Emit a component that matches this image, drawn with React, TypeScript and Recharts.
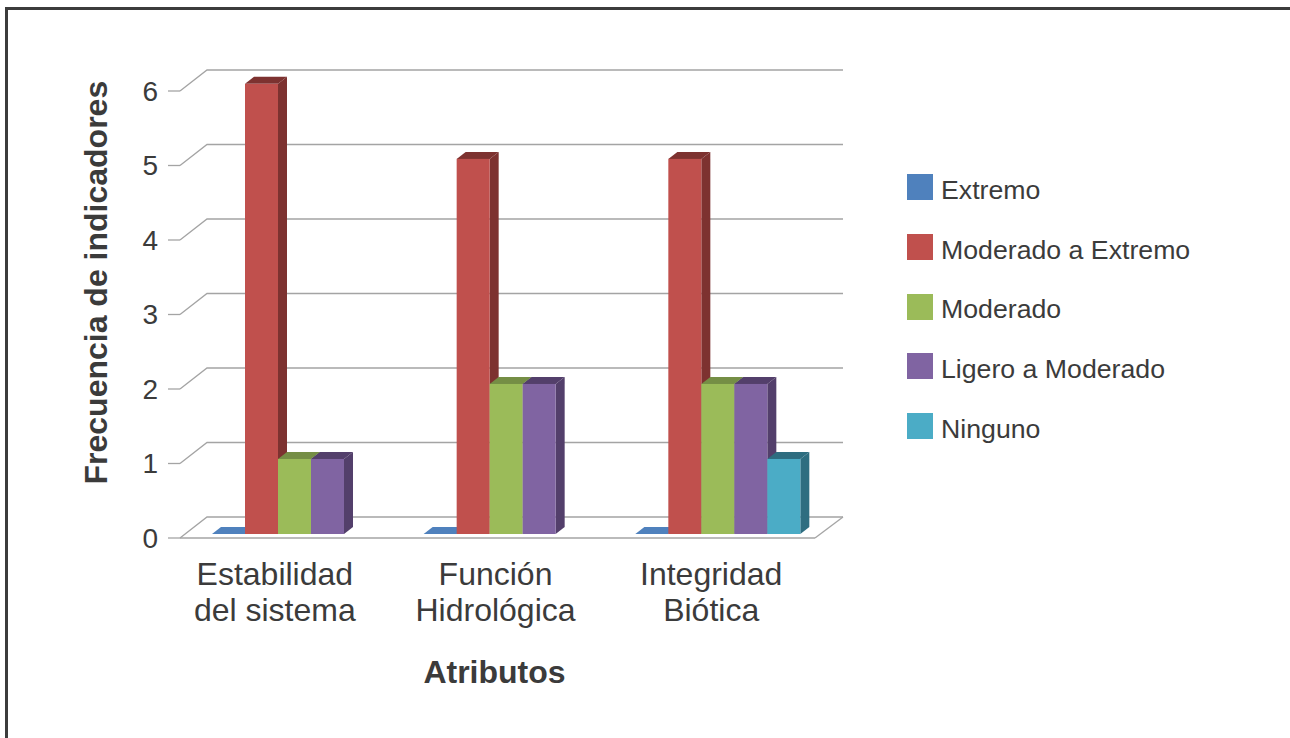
import { BarChart, Bar, XAxis, YAxis, CartesianGrid, Legend } from "recharts";

const categories = ["Estabilidad del sistema", "Función Hidrológica", "Integridad Biótica"];
const seriesNames = ["Extremo", "Moderado a Extremo", "Moderado", "Ligero a Moderado", "Ninguno"];
const extremo = [0, 0, 0];
const moderadoExtremo = [6, 5, 5];
const moderado = [1, 2, 2];
const ligeroModerado = [1, 2, 2];
const ninguno = [null, null, 1];
const yTicks = [0, 1, 2, 3, 4, 5, 6];

const data = categories.map((name, i) => ({
  name,
  extremo: extremo[i],
  moderadoExtremo: moderadoExtremo[i],
  moderado: moderado[i],
  ligeroModerado: ligeroModerado[i],
  ninguno: ninguno[i]
}));

const TEXT = "#3b3b3b";
const FONT = "'Liberation Sans', Arial, sans-serif";
const GRID = "#a4a4a4";

// the fake 3D look: depth of the box walls and of the bars
const WALL_DX = 27;
const WALL_DY = 21;
const BAR_DX = 9;
const BAR_DY = 7;
// bars sit a bit inside the box, so they come out slightly taller than the front ticks
const BAR_STRETCH = 1.007;

function Bar3D(props: any) {
  const { x, y, width, height, fill, dark, payload, dataKey } = props;
  if (payload[dataKey] == null) return null;
  const h = height * BAR_STRETCH;
  const fx = x + 9;
  const b = y + height - 4;
  const fy = b - h;
  const r = fx + width;
  return (
    <g>
      {h > 0 && (
        <polygon
          points={`${r},${fy} ${r + BAR_DX},${fy - BAR_DY} ${r + BAR_DX},${b - BAR_DY} ${r},${b}`}
          fill={dark}
        />
      )}
      <polygon
        points={`${fx},${fy} ${fx + BAR_DX},${fy - BAR_DY} ${r + BAR_DX},${fy - BAR_DY} ${r},${fy}`}
        fill={h > 0 ? dark : fill}
      />
      {h > 0 && <rect x={fx} y={fy} width={width} height={h} fill={fill} />}
    </g>
  );
}

function gridLine(props: any) {
  const { x1, x2, y1, index } = props;
  const isFloor = y1 > 530;
  return (
    <g key={`grid-${index}`} fill="none" stroke={GRID} strokeWidth={1.3}>
      <polyline
        points={`${x1},${y1} ${x1 + WALL_DX},${y1 - WALL_DY} ${x2 + WALL_DX + 1},${y1 - WALL_DY}`}
      />
      {isFloor && <line x1={x2} y1={y1} x2={x2 + WALL_DX + 1} y2={y1 - WALL_DY} />}
    </g>
  );
}

const tickShift = [-11, -2, 2];

function CategoryTick(props: any) {
  const { x, y, payload, index } = props;
  const words = String(payload.value).split(" ");
  const first = words[0];
  const second = words.slice(1).join(" ");
  return (
    <text x={x + tickShift[index]} y={y} textAnchor="middle" fill={TEXT} fontSize={32} fontFamily={FONT}>
      <tspan x={x + tickShift[index]} dy={39}>{first}</tspan>
      <tspan x={x + tickShift[index]} dy={36}>{second}</tspan>
    </text>
  );
}

function LegendList({ payload }: any) {
  return (
    <div style={{ fontFamily: FONT, fontSize: 26.7, color: TEXT }}>
      {(payload || []).map((item: any) => (
        <div key={item.value} style={{ display: "flex", alignItems: "center", height: 59.7 }}>
          <div style={{ width: 26, height: 26, background: item.color, marginRight: 8, marginTop: -3 }} />
          <span style={{ whiteSpace: "nowrap", marginTop: 3 }}>{item.value}</span>
        </div>
      ))}
    </div>
  );
}

export default function App() {
  return (
    <div style={{ position: "absolute", left: 0, top: 0, width: 1290, height: 738, overflow: "hidden", background: "#fff" }}>
      <div
        style={{
          position: "absolute",
          left: 5,
          top: 7,
          width: 1300,
          height: 800,
          border: "3px solid #3c3c3c",
          boxSizing: "border-box"
        }}
      />
      <div style={{ position: "absolute", left: 0, top: 0 }}>
        <BarChart
          width={1290}
          height={738}
          data={data}
          margin={{ top: 91, right: 475, bottom: 120, left: 100 }}
          barCategoryGap={23}
          barGap={0}
        >
          <CartesianGrid vertical={false} horizontal={gridLine} />
          <XAxis
            dataKey="name"
            interval={0}
            height={80}
            axisLine={{ stroke: GRID, strokeWidth: 1.3 }}
            tickLine={false}
            tick={<CategoryTick />}
            label={{
              value: "Atributos",
              position: "insideBottom",
              offset: -65,
              dx: -3,
              fill: TEXT,
              fontSize: 32,
              fontWeight: "bold",
              fontFamily: FONT
            }}
          />
          <YAxis
            domain={[0, 6]}
            ticks={yTicks}
            width={80}
            axisLine={false}
            tickLine={{ stroke: GRID, strokeWidth: 1.3 }}
            tickSize={12}
            tickMargin={10}
            tick={{ fill: TEXT, fontSize: 28, fontFamily: FONT }}
            label={{
              value: "Frecuencia de indicadores",
              angle: -90,
              position: "insideLeft",
              dx: -9,
              dy: 170,
              fill: TEXT,
              fontSize: 32,
              fontWeight: "bold",
              fontFamily: FONT
            }}
          />
          <Legend
            layout="vertical"
            align="center"
            verticalAlign="middle"
            itemSorter={(item: any) => seriesNames.indexOf(item.value)}
            content={<LegendList />}
            wrapperStyle={{ left: 907, top: 159, width: 320 }}
          />
          <Bar dataKey="extremo" name={seriesNames[0]} fill="#4f81bd" shape={<Bar3D dark="#3a6291" />} isAnimationActive={false} />
          <Bar dataKey="moderadoExtremo" name={seriesNames[1]} fill="#c0504d" shape={<Bar3D dark="#7d3230" />} isAnimationActive={false} />
          <Bar dataKey="moderado" name={seriesNames[2]} fill="#9bbb59" shape={<Bar3D dark="#758e45" />} isAnimationActive={false} />
          <Bar dataKey="ligeroModerado" name={seriesNames[3]} fill="#8064a2" shape={<Bar3D dark="#533f6b" />} isAnimationActive={false} />
          <Bar dataKey="ninguno" name={seriesNames[4]} fill="#4bacc6" shape={<Bar3D dark="#2e6d80" />} isAnimationActive={false} />
        </BarChart>
      </div>
    </div>
  );
}
